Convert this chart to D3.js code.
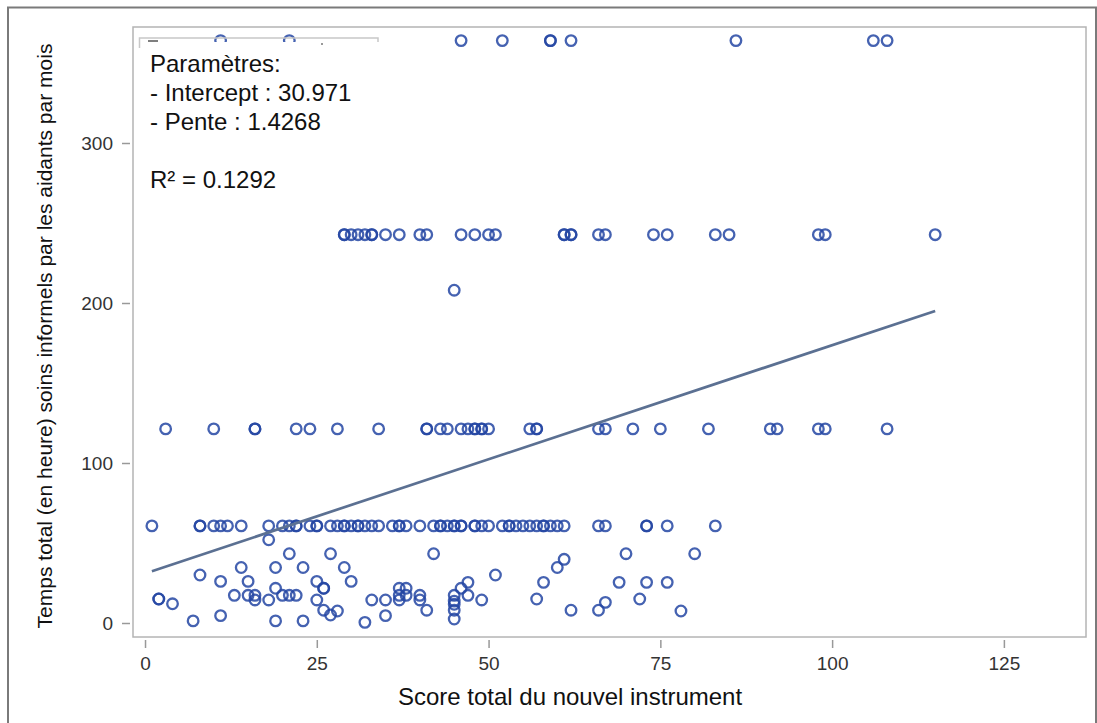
<!DOCTYPE html>
<html>
<head>
<meta charset="utf-8">
<script src="https://cdn.jsdelivr.net/npm/d3@7"></script>
<style>
  html, body { margin: 0; padding: 0; background: #fff; }
  svg { display: block; }
  text { font-family: "Liberation Sans", Arial, sans-serif; }
</style>
</head>
<body>
<svg id="chart" width="1097" height="723"></svg>
<script>
// ---------------- DATA ----------------
const xTicks = [0, 25, 50, 75, 100, 125];
const yTicks = [0, 100, 200, 300];
const xTitle = "Score total du nouvel instrument";
const yTitle = "Temps total (en heure) soins informels par les aidants par mois";

// rows of points sharing the same monthly time value
const rowLevels = [364, 242.7, 121.3, 60.7];
const row364X = [11, 21, 46, 52, 59, 59, 62, 86, 106, 108];
const row243X = [29, 29, 30, 31, 32, 33, 33, 35, 37, 40, 41, 46, 48, 50, 51, 61, 61, 62, 62, 66, 67, 74, 76, 83, 85, 98, 99, 115];
const row121X = [3, 10, 16, 16, 22, 24, 28, 34, 41, 41, 43, 44, 46, 47, 48, 48, 49, 49, 50, 56, 57, 57, 66, 67, 71, 75, 82, 91, 92, 98, 99, 108];
const row61X = [1, 8, 8, 10, 11, 12, 14, 18, 20, 21, 22, 22, 24, 25, 25, 27, 28, 29, 29, 30, 31, 31, 32, 33, 34, 36, 37, 37, 38, 40, 42, 43, 43, 44, 45, 45, 46, 46, 48, 48, 49, 50, 52, 53, 53, 54, 55, 56, 57, 58, 58, 59, 60, 61, 66, 67, 73, 73, 76, 83];

// remaining scattered points
const otherX = [45, 2, 2, 4, 7, 8, 11, 11, 13, 14, 15, 15, 16, 16, 18, 18, 19, 19, 19, 20, 21, 21, 22, 23, 23, 25, 25, 26, 26, 26, 27, 27, 28, 29, 30, 32, 33, 35, 35, 37, 37, 37, 38, 38, 40, 40, 41, 42, 45, 45, 45, 45, 45, 46, 47, 47, 49, 51, 57, 58, 60, 61, 62, 66, 67, 69, 70, 72, 73, 76, 78, 80];
const otherY = [208, 15, 15, 12, 1.3, 30, 26, 4.6, 17.3, 34.7, 26, 17.3, 17.3, 14.4, 52, 14.4, 34.7, 21.7, 1.3, 17.3, 43.3, 17.3, 17.3, 34.7, 1.3, 26, 14.4, 21.7, 21.7, 8, 43.3, 5, 7.5, 34.7, 26, 0.4, 14.4, 14.4, 4.6, 21.7, 17.3, 14.4, 21.7, 17.3, 17.3, 14.4, 8, 43.3, 17.3, 13.7, 11.7, 8, 2.5, 21.7, 25.4, 17.3, 14.4, 30, 15, 25.4, 34.7, 39.8, 8, 8, 12.9, 25.4, 43.3, 15, 25.4, 25.4, 7.5, 43.3];

// regression
const intercept = 30.971;
const slope = 1.4268;
const r2 = 0.1292;
const fitRange = [1, 115];
const annotLines = ["Paramètres:", "- Intercept : 30.971", "- Pente : 1.4268", "", "R² = 0.1292"];

// ---------------- BUILD ----------------
const points = [];
[row364X, row243X, row121X, row61X].forEach((arr, i) => arr.forEach(x => points.push({x, y: rowLevels[i]})));
otherX.forEach((x, i) => points.push({x, y: otherY[i]}));

const svg = d3.select("#chart");
const frame = {left: 133, top: 27, right: 1086, bottom: 637};

const x = d3.scaleLinear().domain([-1.75, 136.95]).range([frame.left, frame.right]);
const y = d3.scaleLinear().domain([-8.75, 372.5]).range([frame.bottom, frame.top]);

// outer border
svg.append("path")
  .attr("d", `M8,723 L8,7.5 L1096,7.5 L1096,723`)
  .attr("fill", "none").attr("stroke", "#7a7a7a").attr("stroke-width", 2);

// plot frame
svg.append("rect")
  .attr("x", frame.left).attr("y", frame.top)
  .attr("width", frame.right - frame.left).attr("height", frame.bottom - frame.top)
  .attr("fill", "#fff").attr("stroke", "#b4b4b4").attr("stroke-width", 1.5);

// x axis (offset below frame)
const xAxis = svg.append("g").attr("transform", `translate(0,${frame.bottom + 3})`)
  .call(d3.axisBottom(x).tickValues(xTicks).tickSize(8).tickPadding(9).tickFormat(d3.format("d")));
xAxis.select(".domain").remove();
xAxis.selectAll(".tick line").attr("stroke", "#999").attr("stroke-width", 1.5);
xAxis.selectAll(".tick text").attr("fill", "#333").style("font-size", "19px")
  .style("font-family", "'Liberation Sans', Arial, sans-serif");

// y axis (offset left of frame)
const yAxis = svg.append("g").attr("transform", `translate(${frame.left - 3},0)`)
  .call(d3.axisLeft(y).tickValues(yTicks).tickSize(8).tickPadding(9).tickFormat(d3.format("d")));
yAxis.select(".domain").remove();
yAxis.selectAll(".tick line").attr("stroke", "#999").attr("stroke-width", 1.5);
yAxis.selectAll(".tick text").attr("fill", "#333").style("font-size", "19px")
  .style("font-family", "'Liberation Sans', Arial, sans-serif");

// axis titles
svg.append("text").attr("x", 570).attr("y", 705)
  .attr("text-anchor", "middle").attr("fill", "#111").style("font-size", "24px").text(xTitle);
svg.append("text").attr("transform", `translate(52,${336}) rotate(-90)`)
  .attr("text-anchor", "middle").attr("fill", "#111").style("font-size", "21px").text(yTitle);

// plot area clip
svg.append("clipPath").attr("id", "clip").append("rect")
  .attr("x", frame.left).attr("y", frame.top)
  .attr("width", frame.right - frame.left).attr("height", frame.bottom - frame.top);
const plot = svg.append("g").attr("clip-path", "url(#clip)");

// points
plot.selectAll("circle").data(points).join("circle")
  .attr("cx", d => x(d.x)).attr("cy", d => y(d.y)).attr("r", 5.3)
  .attr("fill", "none").attr("stroke", "#2446a3").attr("stroke-opacity", 0.85).attr("stroke-width", 2.3);

// regression line
plot.append("line")
  .attr("x1", x(fitRange[0])).attr("y1", y(intercept + slope * fitRange[0]))
  .attr("x2", x(fitRange[1])).attr("y2", y(intercept + slope * fitRange[1]))
  .attr("stroke", "#5b7092").attr("stroke-width", 2.7);

// legend remnant + annotation box
svg.append("path").attr("d", "M139.5,48 L139.5,38 L378,38 L378,48")
  .attr("fill", "none").attr("stroke", "#c8c8c8").attr("stroke-width", 1.5);
svg.append("rect").attr("x", 141).attr("y", 42).attr("width", 238).attr("height", 158).attr("fill", "#fff");
svg.append("line").attr("x1", 148).attr("x2", 158).attr("y1", 41).attr("y2", 41).attr("stroke", "#555").attr("stroke-width", 1.5);
svg.append("circle").attr("cx", 322).attr("cy", 44).attr("r", 1).attr("fill", "#777");

const annot = svg.append("text").attr("x", 150).attr("y", 72).attr("fill", "#111").style("font-size", "24px");
annotLines.forEach((t, i) => {
  annot.append("tspan").attr("x", 150).attr("y", 72 + i * 29).text(t);
});
</script>
</body>
</html>
